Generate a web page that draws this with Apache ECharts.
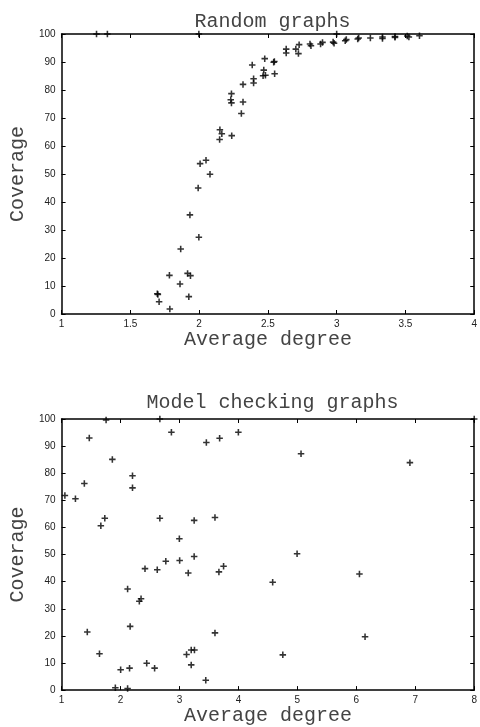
<!DOCTYPE html>
<html><head><meta charset="utf-8">
<script src="https://cdn.jsdelivr.net/npm/echarts@6/dist/echarts.min.js"></script>
<style>html,body{margin:0;padding:0;background:#fff}#c{width:480px;height:727px}</style>
</head><body><div id="c"></div>
<script>
// Random graphs
const randomDegree = [1.254,1.333,1.998,3.0,
 2.633,2.633,2.703,2.727,2.722,2.806,2.813,2.883,2.897,2.974,2.981,3.062,3.07,3.153,3.16,3.245,3.333,3.333,3.424,3.424,3.513,3.525,3.602,
 2.386,2.477,2.47,2.465,2.482,2.547,2.542,2.549,2.319,2.396,2.396,2.235,2.23,2.235,2.319,2.307,2.151,2.165,2.149,2.237,2.007,2.05,2.079,
 1.993,1.933,1.998,1.866,1.784,1.916,1.937,1.861,1.696,1.7,1.709,1.925,1.787];
const randomCoverage = [100,100,100,100,
 94.6,93.2,94.6,96.2,93.0,96.4,95.8,96.4,97.0,97.1,96.7,97.6,98.0,98.2,98.6,98.6,98.9,98.4,99.1,98.8,99.3,98.9,99.4,
 88.9,91.2,87.1,85.1,85.3,90.2,89.9,85.8,82.0,84.0,82.5,78.7,76.5,75.4,75.7,71.6,65.8,64.4,62.3,63.7,53.7,54.9,49.9,
 45.0,35.4,27.4,23.2,13.8,14.5,13.7,10.7,7.25,7.0,4.4,6.2,1.8];
// Model checking graphs
const modelDegree = [1.056,1.235,1.386,1.47,1.755,1.666,1.733,1.861,2.203,2.203,2.667,2.667,2.863,2.998,3.249,3.456,3.681,3.602,3.999,5.062,6.909,4.995,3.249,8.0,
 1.436,1.643,1.912,2.002,2.12,2.12,2.153,2.163,2.319,2.348,2.415,2.444,2.578,2.623,2.768,3.003,3.149,3.12,3.199,3.254,3.199,3.446,3.602,3.669,3.748,4.581,4.753,6.053,6.148];
const modelCoverage = [71.8,70.6,76.2,93.0,99.6,60.6,63.4,85.1,79.1,74.6,100,63.4,95.1,55.8,62.6,91.3,92.9,63.7,95.1,87.2,83.9,50.3,49.3,100,
 21.4,13.4,0.9,7.5,0.6,37.3,8.1,23.5,32.8,33.7,44.8,9.9,8.1,44.4,47.5,47.8,43.2,13.1,14.8,14.8,9.3,3.6,21.1,43.6,45.7,39.8,13.0,42.8,19.7];

const titles = ['Random graphs', 'Model checking graphs'];
const xName = 'Average degree';
const yName = 'Coverage';
const xRanges = [[1, 4, 0.5], [1, 8, 1]];
const yRange = [0, 100, 10];

const grids = [
  {left: 59, top: 34, width: 417, height: 280},
  {left: 59, top: 419, width: 417, height: 279}
];
const monoFont = "'Liberation Mono', 'DejaVu Sans Mono', monospace";
const sansFont = "'Liberation Sans', Arial, sans-serif";
const textColor = '#444';
const lineStyle = {color: '#000', width: 1.5};
const tick = {show: true, inside: true, length: 4, lineStyle: {color: '#000', width: 1}};
const lbl = {color: '#222', fontSize: 10, fontFamily: sansFont};

const plus = 'path://M-0.24,-1H0.24V-0.24H1V0.24H0.24V1H-0.24V0.24H-1V-0.24H-0.24Z';

const xAxes = [], yAxes = [];
[0, 1].forEach(g => {
  const [xmin, xmax, xint] = xRanges[g];
  xAxes.push({type: 'value', gridIndex: g, min: xmin, max: xmax, interval: xint, position: 'bottom',
    name: xName, nameLocation: 'middle', nameGap: 8,
    nameTextStyle: {fontFamily: monoFont, fontSize: 20, color: textColor},
    axisLine: {show: true, onZero: false, lineStyle}, axisTick: tick,
    axisLabel: Object.assign({margin: 5}, lbl), splitLine: {show: false}});
  xAxes.push({type: 'value', gridIndex: g, min: xmin, max: xmax, interval: xint, position: 'top',
    axisLine: {show: true, onZero: false, lineStyle}, axisTick: tick,
    axisLabel: {show: false}, splitLine: {show: false}});
  yAxes.push({type: 'value', gridIndex: g, min: yRange[0], max: yRange[1], interval: yRange[2], position: 'left',
    name: yName, nameLocation: 'middle', nameGap: 29,
    nameTextStyle: {fontFamily: monoFont, fontSize: 20, color: textColor},
    axisLine: {show: true, onZero: false, lineStyle}, axisTick: tick,
    axisLabel: Object.assign({margin: 6}, lbl), splitLine: {show: false}});
  yAxes.push({type: 'value', gridIndex: g, min: yRange[0], max: yRange[1], interval: yRange[2], position: 'right',
    axisLine: {show: true, onZero: false, lineStyle}, axisTick: tick,
    axisLabel: {show: false}, splitLine: {show: false}});
});

const pairs = (xs, ys) => xs.map((x, i) => [x, ys[i]]);

const option = {
  animation: false,
  backgroundColor: '#fff',
  title: [
    {text: titles[0], left: 267.5, textAlign: 'center', top: 7,
     textStyle: {fontFamily: monoFont, fontSize: 20, fontWeight: 'normal', color: textColor}},
    {text: titles[1], left: 267.5, textAlign: 'center', top: 388,
     textStyle: {fontFamily: monoFont, fontSize: 20, fontWeight: 'normal', color: textColor}}
  ],
  grid: grids,
  xAxis: xAxes,
  yAxis: yAxes,
  series: [
    {type: 'scatter', xAxisIndex: 0, yAxisIndex: 0, data: pairs(randomDegree, randomCoverage),
     symbol: plus, symbolSize: 6.5, clip: false, itemStyle: {color: '#000'}},
    {type: 'scatter', xAxisIndex: 2, yAxisIndex: 2, data: pairs(modelDegree, modelCoverage),
     symbol: plus, symbolSize: 6.5, clip: false, itemStyle: {color: '#000'}}
  ]
};
const chart = echarts.init(document.getElementById('c'), null, {renderer: 'canvas'});
chart.setOption(option);
</script></body></html>
